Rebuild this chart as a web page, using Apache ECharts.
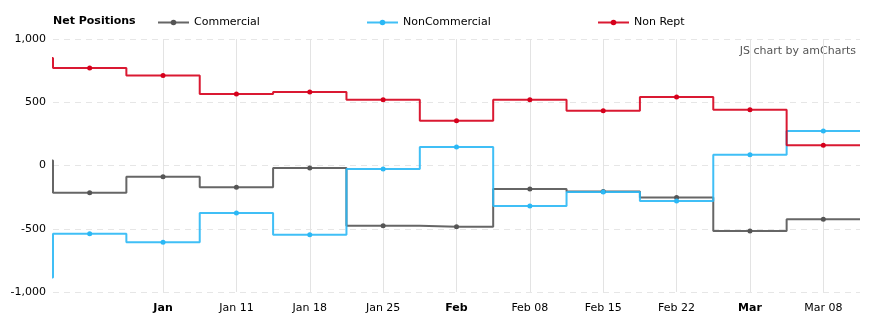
<!DOCTYPE html>
<html>
<head>
<meta charset="utf-8">
<script src="https://cdn.jsdelivr.net/npm/echarts@6/dist/echarts.min.js"></script>
<style>
  html, body { margin: 0; padding: 0; background: #fff; }
  #chart { width: 874px; height: 326px; }
</style>
</head>
<body>
<div id="chart"></div>
<script>
// Weekly report dates (the first week sits just left of the visible range)
const weeks = ['2020-12-21', '2020-12-28', '2021-01-04', '2021-01-11', '2021-01-18', '2021-01-25',
               '2021-02-01', '2021-02-08', '2021-02-15', '2021-02-22', '2021-03-01', '2021-03-08'];

// Net positions per group
const commercial    = [40, -215, -88, -171, -19, -476, -484, -185, -205, -253, -517, -425];
const nonCommercial = [-885, -540, -606, -375, -548, -27, 147, -320, -209, -280, 84, 273];
const nonRept       = [850, 771, 711, 566, 582, 519, 353, 519, 432, 542, 440, 160];

const seriesNames = ['Commercial', 'NonCommercial', 'Non Rept'];

// Tick positions and labels on the date axis
const tickDates  = ['2021-01-04', '2021-01-11', '2021-01-18', '2021-01-25', '2021-02-01',
                    '2021-02-08', '2021-02-15', '2021-02-22', '2021-03-01', '2021-03-08'];
const tickLabels = ['Jan', 'Jan 11', 'Jan 18', 'Jan 25', 'Feb', 'Feb 08', 'Feb 15', 'Feb 22', 'Mar', 'Mar 08'];
const monthStart = [true, false, false, false, true, false, false, false, true, false];

const yTicks = [-1000, -500, 0, 500, 1000];

// dates are placed on a linear axis counted in days
const dayNum = s => { const [y, m, d] = s.split('-').map(Number); return Date.UTC(y, m - 1, d) / 86400000; };

// Visible window: half a week before the first shown report to half a week after the last
const xMin = dayNum(weeks[1]) - 3.5;
const xMax = dayNum(weeks[weeks.length - 1]) + 3.5;
const tickDays = tickDates.map(dayNum);

function buildSeriesData(values) {
  const pts = weeks.map((w, i) => {
    const item = { value: [dayNum(w), values[i]] };
    if (i === 0) item.symbol = 'none';
    return item;
  });
  // hold the last value flat up to the right edge of the plot
  pts.push({ value: [xMax, values[values.length - 1]], symbol: 'none' });
  return pts;
}

const FONT = '"DejaVu Sans", Verdana, sans-serif';
const COLORS = ['#555555', '#2bb8f5', '#d6001c'];

function lineSeries(name, color, values) {
  return {
    name: name,
    type: 'line',
    step: 'middle',
    data: buildSeriesData(values),
    symbol: 'circle',
    symbolSize: 5,
    showSymbol: true,
    clip: true,
    lineStyle: { color: color, width: 2, opacity: 0.9 },
    itemStyle: { color: color },
    emphasis: { disabled: true },
    animation: false
  };
}

// one legend block per series so the entries sit at even spacing
const legendLefts = [157, 366, 597];
const legends = seriesNames.map((name, i) => ({
  left: legendLefts[i],
  top: 17,
  padding: 0,
  itemWidth: 31,
  itemHeight: 7,
  selectedMode: false,
  lineStyle: { width: 2 },
  textStyle: { fontFamily: FONT, fontSize: 11, color: '#000', padding: [0, 0, 0, 0] },
  data: [name]
}));

const chart = echarts.init(document.getElementById('chart'), null, { renderer: 'canvas' });

chart.setOption({
  animation: false,
  backgroundColor: '#ffffff',
  textStyle: { fontFamily: FONT },
  title: {
    text: 'Net Positions',
    left: 53,
    top: 16,
    padding: 0,
    textStyle: { fontFamily: FONT, fontSize: 11, fontWeight: 'bold', color: '#000' }
  },
  legend: legends,
  graphic: [{
    type: 'text',
    right: 18,
    top: 46,
    style: { text: 'JS chart by amCharts', fontFamily: FONT, fontSize: 11, fill: '#555' }
  }],
  grid: { left: 53, right: 14, top: 39, bottom: 34, containLabel: false },
  xAxis: {
    type: 'value',
    min: xMin,
    max: xMax,
    axisLine: { show: false },
    axisTick: { show: false, customValues: tickDays },
    splitLine: { show: true, lineStyle: { color: '#e3e3e3', width: 1 } },
    axisLabel: {
      customValues: tickDays,
      margin: 11,
      fontFamily: FONT,
      fontSize: 11,
      color: '#000',
      hideOverlap: false,
      formatter: function (val) {
        const i = tickDays.indexOf(val);
        if (i < 0) return '';
        return monthStart[i] ? '{b|' + tickLabels[i] + '}' : tickLabels[i];
      },
      rich: { b: { fontFamily: FONT, fontSize: 11, fontWeight: 'bold', color: '#000' } }
    }
  },
  yAxis: {
    type: 'value',
    min: yTicks[0],
    max: yTicks[yTicks.length - 1],
    interval: 500,
    axisLine: { show: false },
    axisTick: { show: false },
    splitLine: { show: true, lineStyle: { color: '#e6e6e6', type: [6, 5], width: 1 } },
    axisLabel: {
      margin: 7,
      fontFamily: FONT,
      fontSize: 11,
      color: '#000',
      formatter: v => v.toLocaleString('en-US')
    }
  },
  series: seriesNames.map((n, i) => lineSeries(n, COLORS[i], [commercial, nonCommercial, nonRept][i]))
});
</script>
</body>
</html>
